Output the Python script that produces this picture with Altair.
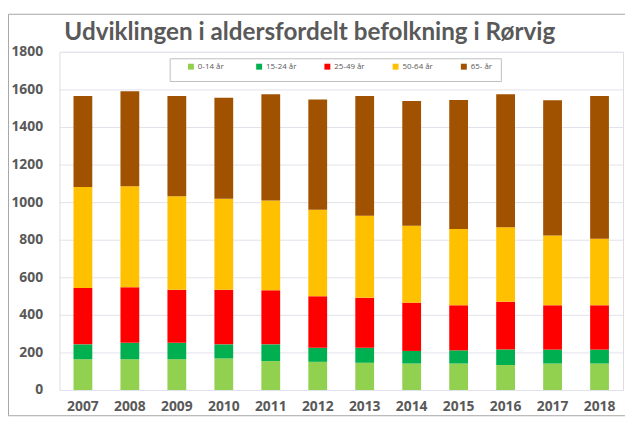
import altair as alt
import pandas as pd

title_text = "Udviklingen i aldersfordelt befolkning i Rørvig"
years = ["2007", "2008", "2009", "2010", "2011", "2012",
         "2013", "2014", "2015", "2016", "2017", "2018"]
groups = ["0-14 år", "15-24 år", "25-49 år", "50-64 år", "65- år"]
colors = ["#92d050", "#00b050", "#ff0000", "#ffc000", "#a05200"]

age_0_14 = [164, 164, 164, 168, 154, 150, 145, 141, 141, 133, 141, 141]
age_15_24 = [79, 87, 87, 75, 89, 75, 80, 67, 70, 83, 74, 74]
age_25_49 = [300, 296, 283, 291, 288, 274, 266, 257, 240, 254, 236, 236]
age_50_64 = [538, 537, 498, 484, 478, 460, 436, 410, 406, 396, 372, 354]
age_65 = [484, 506, 533, 538, 565, 588, 638, 663, 687, 708, 719, 760]

series = [age_0_14, age_15_24, age_25_49, age_50_64, age_65]
rows = []
for gi, (g, vals) in enumerate(zip(groups, series)):
    for y, v in zip(years, vals):
        rows.append({"year": y, "group": g, "value": v, "order": gi})
df = pd.DataFrame(rows)

W, H = 570, 342
gray = "#595959"

bars = alt.Chart(df).mark_bar().encode(
    x=alt.X("year:O", sort=years, title=None,
            scale=alt.Scale(paddingInner=0.6, paddingOuter=0.3),
            axis=alt.Axis(labelAngle=0, ticks=False, domain=False,
                          labelPadding=10, labelFontSize=14,
                          labelFontWeight="bold", labelColor=gray,
                          labelFont="Open Sans")),
    y=alt.Y("value:Q", stack="zero", title=None,
            scale=alt.Scale(domain=[0, 1800], nice=False),
            axis=alt.Axis(values=list(range(0, 1801, 200)), format="d",
                          ticks=False, domain=False, labelPadding=17,
                          labelFontSize=14, labelFontWeight="bold",
                          labelColor=gray, labelFont="Open Sans",
                          gridColor="#e2e2ec")),
    color=alt.Color("group:N", sort=groups,
                    scale=alt.Scale(domain=groups, range=colors),
                    legend=alt.Legend(orient="none", legendX=129, legendY=11,
                                      direction="horizontal", title=None,
                                      symbolType="square", symbolSize=36,
                                      symbolStrokeWidth=0,
                                      labelFontSize=8, labelColor=gray,
                                      labelFont="Open Sans",
                                      gridAlign="all", columnPadding=27,
                                      labelOffset=3)),
    order=alt.Order("order:Q"),
)

one = alt.Data(values=[{}])

legend_box = alt.Chart(one).mark_rect(
    fill="white", stroke="#bfbfbf", strokeWidth=1
).encode(x=alt.value(112), x2=alt.value(447), y=alt.value(7), y2=alt.value(30))

frame = alt.Chart(one).mark_rect(
    fill=None, stroke="#a6a6a6", strokeWidth=1
).encode(x=alt.value(-51.5), x2=alt.value(580), y=alt.value(-38), y2=alt.value(368))

title = alt.Chart(alt.Data(values=[{"t": title_text}])).mark_text(
    align="left", baseline="alphabetic", fontSize=24.5, font="Lato",
    fontWeight="bold", color=gray
).encode(text="t:N", x=alt.value(5), y=alt.value(-12))

chart = alt.layer(bars, legend_box, frame, title).properties(
    width=W, height=H,
    autosize=alt.AutoSizeParams(type="none"),
    padding={"left": 52, "top": 42, "right": 2, "bottom": 30},
).configure_view(fill="#efeff7", stroke="#c4c4c4").configure(background="white")

chart.save("out.html", embed_options={"renderer": "svg", "actions": False})
